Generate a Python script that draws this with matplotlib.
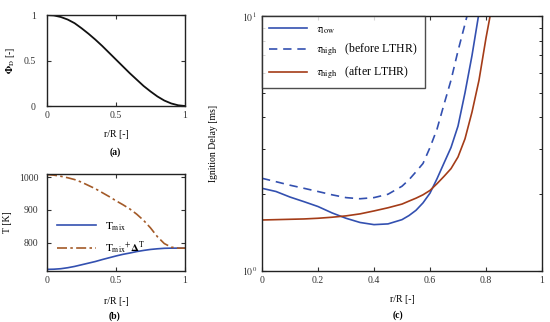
import matplotlib
matplotlib.use("Agg")
import matplotlib.pyplot as plt
from matplotlib.ticker import LogLocator, NullFormatter

plt.rcParams['font.family'] = ['Liberation Serif', 'DejaVu Serif']
plt.rcParams['mathtext.fontset'] = 'stix'

# ---- data ----
r_a = [0, 0.05, 0.1, 0.15, 0.2, 0.25, 0.3, 0.35, 0.4, 0.45, 0.5,
       0.55, 0.6, 0.65, 0.7, 0.75, 0.8, 0.85, 0.9, 0.95, 1.0]
phi_d = [1.0, 0.995, 0.978, 0.95, 0.91, 0.855, 0.795, 0.73, 0.66, 0.585, 0.51,
         0.435, 0.36, 0.29, 0.22, 0.16, 0.105, 0.06, 0.028, 0.008, 0.0]

r_b = [0, 0.05, 0.1, 0.15, 0.2, 0.25, 0.3, 0.35, 0.4, 0.45, 0.5,
       0.55, 0.6, 0.65, 0.7, 0.75, 0.8, 0.85, 0.9, 0.95, 1.0]
t_mix = [718, 718.5, 720, 723, 727, 732, 737, 742, 748, 753.5, 759,
         764, 768, 772.5, 776, 779, 781, 782.5, 783, 783, 783]
t_mix_dt = [1008, 1006.5, 1003, 998.5, 993, 985, 975, 965, 953, 941, 928,
            916, 903, 887, 868, 845, 818, 797, 786, 783, 783]

r_c = [0, 0.05, 0.1, 0.15, 0.2, 0.25, 0.3, 0.35, 0.4, 0.45, 0.5, 0.525, 0.55,
       0.575, 0.6, 0.625, 0.65, 0.675, 0.7, 0.725, 0.75, 0.775, 0.8, 0.825, 0.85]
tau_low = [2.11, 2.05, 1.95, 1.87, 1.79, 1.69, 1.61, 1.55, 1.52, 1.53, 1.59, 1.65, 1.73,
           1.85, 2.02, 2.3, 2.65, 3.05, 3.7, 5.0, 7.0, 10.3, 14, 20, 30]
tau_high_before = [2.31, 2.24, 2.17, 2.11, 2.05, 1.99, 1.94, 1.92, 1.94, 2.0, 2.15, 2.28, 2.45,
                   2.64, 3.05, 3.6, 4.5, 5.6, 7.3, 9.3, 12, 16, 20, 25, 30]
tau_high_after = [1.585, 1.59, 1.595, 1.60, 1.61, 1.625, 1.645, 1.675, 1.72, 1.77, 1.83, 1.88, 1.93,
                  1.99, 2.07, 2.2, 2.35, 2.52, 2.8, 3.3, 4.2, 5.6, 8.2, 11.5, 15]

c_blue = '#3350b0'
c_red = '#a43c18'
c_brown = '#a35a28'

fig = plt.figure(figsize=(5.5, 3.22), dpi=100)

def style(ax):
    ax.tick_params(direction='in', length=3, width=0.8, labelsize=7, top=True, right=True, colors='#333333')
    for s in ax.spines.values():
        s.set_linewidth(1.0)
        s.set_color('#222222')

# (a)
ax_a = fig.add_axes([47/550, 1-106/322, 138/550, 91/322])
ax_a.plot(r_a, phi_d, color='#111111', lw=1.3)
ax_a.set_xlim(0, 1); ax_a.set_ylim(0, 1)
ax_a.set_xticks([0, 0.5, 1]); ax_a.set_xticklabels(['0', '0.5', '1'])
ax_a.set_yticks([0, 0.5, 1]); ax_a.set_yticklabels(['0', '0.5', '1'])
style(ax_a)
ax_a.tick_params(axis='y', pad=8)
ax_a.set_xlabel('r/R [-]', fontsize=7)
ax_a.xaxis.set_label_coords(0.5, -0.26)
ax_a.set_ylabel(r'$\mathbf{\Phi}_{\mathrm{D}}$ [-]', fontsize=7)
ax_a.yaxis.set_label_coords(-0.22, 0.5)

# (b)
ax_b = fig.add_axes([47/550, 1-271/322, 138/550, 97/322])
ax_b.plot(r_b, t_mix, color=c_blue, lw=1.2, label=r'$\mathrm{T}_{\mathrm{mix}}$')
ax_b.plot(r_b, t_mix_dt, color=c_brown, lw=1.2, dashes=[6, 2, 1.5, 2],
          label=r'$\mathrm{T}_{\mathrm{mix}}{}^{+}\mathbf{\Delta}^{\mathrm{T}}$')
ax_b.set_xlim(0, 1); ax_b.set_ylim(713, 1010)
ax_b.set_xticks([0, 0.5, 1]); ax_b.set_xticklabels(['0', '0.5', '1'])
ax_b.set_yticks([800, 900, 1000])
style(ax_b)
ax_b.tick_params(axis='y', pad=6)
ax_b.set_xlabel('r/R [-]', fontsize=7)
ax_b.xaxis.set_label_coords(0.5, -0.27)
ax_b.set_ylabel('T [K]', fontsize=7)
ax_b.yaxis.set_label_coords(-0.255, 0.5)
ax_b.legend(loc='lower left', bbox_to_anchor=(0.0, 0.05), frameon=False, fontsize=8,
            handlelength=3.5, labelspacing=0.6)

# (c)
ax_c = fig.add_axes([262/550, 1-271/322, 280/550, 255/322])
ax_c.plot(r_c, tau_low, color=c_blue, lw=1.2, label=r'$\tau_{\mathrm{low}}$')
ax_c.plot(r_c, tau_high_before, color=c_blue, lw=1.2, dashes=[5, 3.5],
          label=r'$\tau_{\mathrm{high}}$' + '   (before LTHR)')
ax_c.plot(r_c, tau_high_after, color=c_red, lw=1.2,
          label=r'$\tau_{\mathrm{high}}$' + '   (after LTHR)')
ax_c.set_yscale('log')
ax_c.set_xlim(0, 1); ax_c.set_ylim(1, 10)
ax_c.set_xticks([0, 0.2, 0.4, 0.6, 0.8, 1])
ax_c.set_xticklabels(['0', '0.2', '0.4', '0.6', '0.8', '1'])
ax_c.set_yticks([1, 10])
ax_c.set_yticklabels([r'$10^{\,0}$', r'$10^{\,1}$'])
ax_c.yaxis.set_minor_locator(LogLocator(base=10, subs=range(2, 10)))
ax_c.yaxis.set_minor_formatter(NullFormatter())
style(ax_c)
ax_c.tick_params(which='minor', direction='in', length=2, right=True, left=True)
ax_c.tick_params(axis='y', pad=3)
ax_c.set_xlabel('r/R [-]', fontsize=7)
ax_c.xaxis.set_label_coords(0.5, -0.094)
ax_c.set_ylabel('Ignition Delay [ms]', fontsize=7)
ax_c.yaxis.set_label_coords(-0.157, 0.5)
leg = ax_c.legend(loc='upper left', fontsize=8.5, handlelength=3.2, fancybox=False,
                  edgecolor='#222222', borderaxespad=0, labelspacing=0.55, borderpad=0.6)
leg.get_frame().set_linewidth(1.0)

fig.text(115/550, 1-152/322, '(a)', fontsize=7, fontweight='bold', ha='center', va='center')
fig.text(115/550, 1-316/322, '(b)', fontsize=7, fontweight='bold', ha='center', va='center')
fig.text(398/550, 1-315/322, '(c)', fontsize=7, fontweight='bold', ha='center', va='center')

fig.savefig('out.png', dpi=100)
